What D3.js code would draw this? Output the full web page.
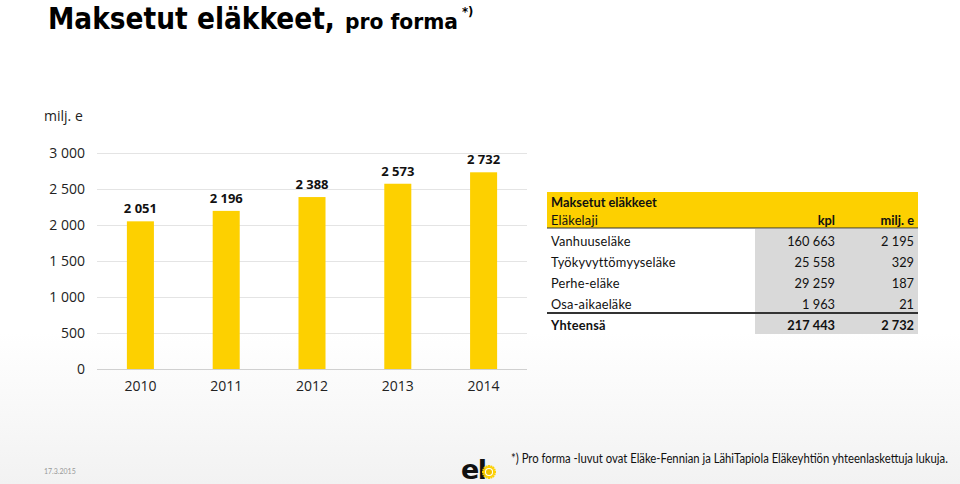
<!DOCTYPE html>
<html><head><meta charset="utf-8">
<script src="https://cdn.jsdelivr.net/npm/d3@7"></script>
<style>
html,body{margin:0;padding:0;background:#fff;}
svg{display:block;}
</style></head>
<body>
<svg id="c" width="960" height="484"></svg>
<script>
const years = ["2010","2011","2012","2013","2014"];
const values = [2051, 2196, 2388, 2573, 2732];
const yTicks = [0, 500, 1000, 1500, 2000, 2500, 3000];
const tableTypes = ["Vanhuuseläke","Työkyvyttömyyseläke","Perhe-eläke","Osa-aikaeläke"];
const tableKpl = [160663, 25558, 29259, 1963];
const tableMilj = [2195, 329, 187, 21];
const totalKpl = 217443, totalMilj = 2732;

const fmt = v => d3.format(",")(v).replace(/,/g, " ");
const svg = d3.select("#c");
const defs = svg.append("defs");
const g0 = defs.append("linearGradient").attr("id","bg").attr("x1",0).attr("y1",0).attr("x2",0).attr("y2",1);
g0.append("stop").attr("offset","0").attr("stop-color","#ffffff");
g0.append("stop").attr("offset","1").attr("stop-color","#f2f2f2");
svg.append("rect").attr("x",0).attr("y",0).attr("width",960).attr("height",333).attr("fill","#fff");
svg.append("rect").attr("x",0).attr("y",333).attr("width",960).attr("height",151).attr("fill","url(#bg)");

// place a text at (x,y) and stretch it horizontally to a target width
function placeFit(sel, x, y, target){
  const w = sel.node().getComputedTextLength();
  sel.attr("x",0).attr("y",0).attr("transform",`translate(${x},${y}) scale(${target/w},1)`);
}

// Title
const tfont = "DejaVu Sans Condensed, DejaVu Sans, sans-serif";
const t1 = svg.append("text").attr("font-family",tfont).attr("font-stretch","condensed").attr("font-weight","bold").attr("font-size",30.5).attr("fill","#000").text("Maksetut eläkkeet,");
placeFit(t1, 48, 28.5, 287);
const t2 = svg.append("text").attr("font-family",tfont).attr("font-stretch","condensed").attr("font-weight","bold").attr("font-size",21.5).attr("fill","#000").text("pro forma");
placeFit(t2, 345, 28.5, 113);
const t3 = svg.append("text").attr("x",462).attr("y",16).attr("font-family",tfont).attr("font-stretch","condensed").attr("font-weight","bold").attr("font-size",13).attr("fill","#000").text("*)");

// Chart
const x = d3.scaleBand().domain(years).range([97.5, 526.5]).paddingInner(0.685).paddingOuter(0.3425);
const y = d3.scaleLinear().domain([0,3000]).range([369,153]);
const font = "Open Sans, sans-serif";

svg.append("text").attr("x",44).attr("y",121).attr("font-family",font).attr("font-size",14).attr("fill","#222").text("milj. e");

const grid = svg.append("g");
grid.selectAll("line").data(yTicks).join("line")
  .attr("x1",97).attr("x2",527).attr("y1",d=>y(d)+0.5).attr("y2",d=>y(d)+0.5)
  .attr("stroke", d=> d===0 ? "#d0d0d0" : "#e4e4e4").attr("stroke-width",1);

const yAxis = d3.axisLeft(y).tickValues(yTicks).tickSize(0).tickPadding(0).tickFormat(d=>fmt(d));
const ya = svg.append("g").attr("transform","translate(85,0)").call(yAxis);
ya.select(".domain").remove();
ya.selectAll("text").attr("font-family",font).attr("font-size",14).attr("fill","#222");

const xAxis = d3.axisBottom(x).tickSize(0).tickPadding(0);
const xa = svg.append("g").attr("transform","translate(0,381)").call(xAxis);
xa.select(".domain").remove();
xa.selectAll("text").attr("font-family",font).attr("font-size",14).attr("fill","#222");

svg.append("g").selectAll("rect").data(values).join("rect")
  .attr("x",(d,i)=>x(years[i])).attr("width",x.bandwidth())
  .attr("y",d=>y(d)).attr("height",d=>y(0)-y(d)).attr("fill","#fdd000");

svg.append("g").selectAll("text").data(values).join("text")
  .attr("x",(d,i)=>x(years[i])+x.bandwidth()/2).attr("y",d=>y(d)-8)
  .attr("text-anchor","middle").attr("font-family",font).attr("font-weight","bold")
  .attr("font-size",13).attr("fill","#111").text(d=>fmt(d));

// Table
const T = svg.append("g");
const tf = "Lato, sans-serif";
const ts = 12.8;
T.append("rect").attr("x",547).attr("y",192).attr("width",371).attr("height",36).attr("fill","#fdd000");
T.append("rect").attr("x",755).attr("y",229).attr("width",163).attr("height",105).attr("fill","#d9d9d9");
T.append("line").attr("x1",547).attr("x2",918).attr("y1",228).attr("y2",228).attr("stroke","#333").attr("stroke-width",1.2);
T.append("line").attr("x1",547).attr("x2",918).attr("y1",313).attr("y2",313).attr("stroke","#333").attr("stroke-width",2);
T.append("text").attr("x",551).attr("y",207).attr("font-family",tf).attr("font-weight","bold").attr("font-size",ts).attr("fill","#111").text("Maksetut eläkkeet");
T.append("text").attr("x",551).attr("y",225).attr("font-family",tf).attr("font-size",ts).attr("letter-spacing",0.2).attr("fill","#111").text("Eläkelaji");
T.append("text").attr("x",835).attr("y",225).attr("text-anchor","end").attr("font-family",tf).attr("font-weight","bold").attr("font-size",ts).attr("fill","#111").text("kpl");
T.append("text").attr("x",914).attr("y",225).attr("text-anchor","end").attr("font-family",tf).attr("font-weight","bold").attr("font-size",ts).attr("fill","#111").text("milj. e");
const rowY = [246, 267, 288, 309];
tableTypes.forEach((t,i)=>{
  T.append("text").attr("x",551).attr("y",rowY[i]).attr("font-family",tf).attr("font-size",ts).attr("letter-spacing",0.2).attr("fill","#111").text(t);
  T.append("text").attr("x",835).attr("y",rowY[i]).attr("text-anchor","end").attr("font-family",tf).attr("font-size",ts).attr("fill","#111").text(fmt(tableKpl[i]));
  T.append("text").attr("x",914).attr("y",rowY[i]).attr("text-anchor","end").attr("font-family",tf).attr("font-size",ts).attr("fill","#111").text(fmt(tableMilj[i]));
});
T.append("text").attr("x",551).attr("y",330).attr("font-family",tf).attr("font-weight","bold").attr("font-size",ts).attr("letter-spacing",0.2).attr("fill","#111").text("Yhteensä");
T.append("text").attr("x",835).attr("y",330).attr("text-anchor","end").attr("font-family",tf).attr("font-weight","bold").attr("font-size",ts).attr("fill","#111").text(fmt(totalKpl));
T.append("text").attr("x",914).attr("y",330).attr("text-anchor","end").attr("font-family",tf).attr("font-weight","bold").attr("font-size",ts).attr("fill","#111").text(fmt(totalMilj));

// Footer
svg.append("text").attr("x",44).attr("y",474).attr("font-family",tf).attr("font-size",7).attr("fill","#999").text("17.3.2015");
const foot = svg.append("text").attr("font-family","Lato, sans-serif").attr("font-size",12.5).attr("fill","#111")
  .text("*) Pro forma -luvut ovat Eläke-Fennian ja LähiTapiola Eläkeyhtiön yhteenlaskettuja lukuja.");
placeFit(foot, 511, 463, 437);
// logo
svg.append("text").attr("x",461).attr("y",479).attr("font-family","DejaVu Sans, sans-serif").attr("font-weight","bold").attr("font-size",27).attr("letter-spacing",-1.5).attr("fill","#111").text("el");
const sun = svg.append("g").attr("transform","translate(489,472)");
sun.selectAll("line").data(d3.range(16)).join("line")
  .attr("x1",0).attr("y1",0)
  .attr("x2",d=>Math.cos(d*Math.PI/8)*7).attr("y2",d=>Math.sin(d*Math.PI/8)*7)
  .attr("stroke","#fdd000").attr("stroke-width",2);
sun.append("circle").attr("r",4).attr("fill","#fff");
sun.append("circle").attr("r",3).attr("fill","#f2c200");
</script>
</body></html>
